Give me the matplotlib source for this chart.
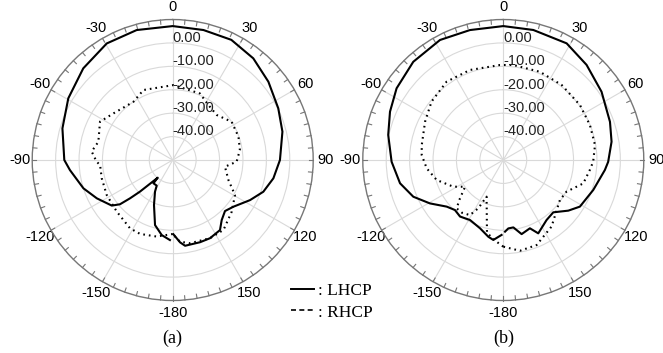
import numpy as np
import matplotlib.pyplot as plt
from matplotlib.lines import Line2D

# angle labels around the rim, clockwise from the top
ANGLE_LABELS = ['0', '30', '60', '90', '120', '150',
                '-180', '-150', '-120', '-90', '-60', '-30']
RING_LEVELS = [0, -10, -20, -30, -40]

# (a) LHCP, solid
theta_a_lhcp = [-178, -171.7, -164.8, -157.4, -150.8, -148, -140.4, -139.7, -134,
                -131.9, -130, -126.8, -116.8, -107.6, -95.6, -90, -74, -59.4,
                -44.3, -29.5, -15.5, 0, 13.3, 26, 38.4, 50.7, 63.9, 75.5, 90,
                100.3, 109.3, 117.4, 127.6, 134.3, 140.8, 146, 154.5, 161.6,
                171.8, 174.9, 179.5]
gain_a_lhcp = [-15.8, -17.6, -21.2, -29.2, -34.5, -37.1, -37.1, -40.1, -30.6,
               -25.5, -20.6, -17.5, -13.7, -10.0, -5.9, -3.7, -1.0, 1.8,
               4.7, 7.2, 7.6, 7.2, 7.05, 7.1, 5.4, 2.8, 0.2, -1.6, -4.2,
               -6.3, -9.0, -12.8, -17.3, -18.8, -16.9, -13.9, -13.0, -13.0,
               -13.0, -14.7, -18.3]

# (a) RHCP, dotted
theta_a_rhcp = [-180, -168.2, -156.2, -148, -132.7, -117.9, -104.5, -93.9, -91.3,
                -84, -76.2, -62.2, -51.8, -34, -22.7, 0.5, 22.3, 33, 44.4, 57,
                70.5, 81.5, 91.5, 97.3, 109.8, 119.3, 131.2, 144, 154.5, 168.3,
                175, 180]
gain_a_rhcp = [-18.4, -16.6, -15.5, -15.6, -17.5, -18.1, -18.7, -18.9, -17.5,
               -15.2, -17.3, -14.9, -17.8, -20.0, -17.6, -18.0, -19.3, -22.0,
               -23.1, -20.0, -20.2, -21.0, -22.7, -27.5, -24.7, -19.5, -16.5,
               -13.1, -13.0, -13.7, -15.0, -18.4]

# (b) LHCP, solid
theta_b_lhcp = [-178.7, -172.9, -169, -161.2, -151, -142.6, -136, -129.5, -120.6,
                -112.2, -102.7, -95.3, -90.9, -77.7, -66.9, -56.1, -42.5, -27.8,
                -14.4, 0, 13, 28.5, 41.2, 55.2, 70.3, 80.4, 91, 95.6, 108.4,
                121.3, 127.9, 136.3, 144.2, 154.5, 158.7, 166.1, 171.5, 175.8,
                178.6]
gain_b_lhcp = [-18.0, -15.6, -16.6, -19.2, -20.7, -19.6, -20.3, -18.7, -13.6,
               -8.5, -4.8, -3.5, -2.3, 0.3, 2.6, 4.9, 6.9, 7.95,
               7.3, 7.2, 7.0, 6.7, 4.0, 1.1, -1.6, -3.1, -5.2, -6.4, -9.5,
               -11.7, -14.8, -19.1, -18.4, -15.3, -18.7, -17.4, -20.9, -20.7,
               -19.4]

# (b) RHCP, dotted
theta_b_rhcp = [-180, -175.3, -167.4, -155.5, -152.6, -148.8, -142, -136, -131.5,
                -125, -118.1, -106.7, -96.2, -86.5, -79.6, -63.9, -50.9, -35.9,
                -20.3, -2, 6, 22.6, 37.9, 54.4, 68, 80.7, 91, 96.6, 106.3, 116.6,
                125.2, 144, 158.6, 169.6, 180]
gain_b_rhcp = [-13.0, -15.0, -18.1, -32.8, -26.8, -22.5, -21.4, -21.3, -25.3,
               -30.1, -25.8, -20.3, -17.1, -15.1, -14.6, -12.8, -10.5, -8.7,
               -9.0, -9.4, -9.2, -9.2, -9.4, -9.7, -10.1, -10.3, -11.6, -12.8,
               -14.4, -19.8, -20.4, -14.9, -11.0, -10.6, -13.0]

SANS = 'Liberation Sans'
SERIF = 'Liberation Serif'
DOT = (0, (0.8, 1.9))
RIM = '#777777'


def setup(ax):
    ax.set_theta_zero_location('N')
    ax.set_theta_direction(-1)
    ax.set_ylim(-50, 10)
    ax.set_yticks(RING_LEVELS)
    ax.set_yticklabels([])
    ax.set_xticks(np.deg2rad(np.arange(0, 360, 30)))
    ax.set_xticklabels(ANGLE_LABELS, fontsize=10.5, family=SANS)
    ax.tick_params(axis='x', which='major', pad=2, length=0)
    ax.grid(True, color='#d9d9d9', lw=0.8)
    ax.spines['polar'].set_color(RIM)
    ax.spines['polar'].set_linewidth(1.0)
    # short inward ticks on the rim every 5 degrees
    for a in np.deg2rad(np.arange(0, 360, 5)):
        ax.plot([a, a], [8.2, 10], color=RIM, lw=0.8, clip_on=False)
    for v in RING_LEVELS:
        ax.text(0, v + 2.2, f'{v:.2f}', ha='left', va='center',
                fontsize=10.5, family=SANS, color='#222222')


fig = plt.figure(figsize=(6.63, 3.53), dpi=100)
ax_a = fig.add_axes([0.0486, 0.1487, 0.4238, 0.796], projection='polar')
ax_b = fig.add_axes([0.5472, 0.1487, 0.4238, 0.796], projection='polar')

for ax in (ax_a, ax_b):
    setup(ax)

ax_a.plot(np.deg2rad(theta_a_lhcp), gain_a_lhcp, color='black', lw=1.5)
ax_a.plot(np.deg2rad(theta_a_rhcp), gain_a_rhcp, color='black', lw=1.5, ls=DOT)
ax_b.plot(np.deg2rad(theta_b_lhcp), gain_b_lhcp, color='black', lw=1.5)
ax_b.plot(np.deg2rad(theta_b_rhcp), gain_b_rhcp, color='black', lw=1.5, ls=DOT)

fig.text(172.7 / 663, 1 - 338 / 353, '(a)', ha='center', va='center',
         family=SERIF, fontsize=13)
fig.text(503.3 / 663, 1 - 338 / 353, '(b)', ha='center', va='center',
         family=SERIF, fontsize=13)

handles = [Line2D([], [], color='black', lw=1.4),
           Line2D([], [], color='black', lw=1.2, ls=(0, (3, 2)))]
fig.legend(handles, [': LHCP', ': RHCP'], loc='upper left',
           bbox_to_anchor=(291 / 663, 1 - 283 / 353), frameon=False,
           prop={'family': SERIF, 'size': 12.5}, handlelength=1.3,
           handletextpad=0.25, labelspacing=0.3, borderpad=0, borderaxespad=0)

fig.savefig('out.png', dpi=100)
